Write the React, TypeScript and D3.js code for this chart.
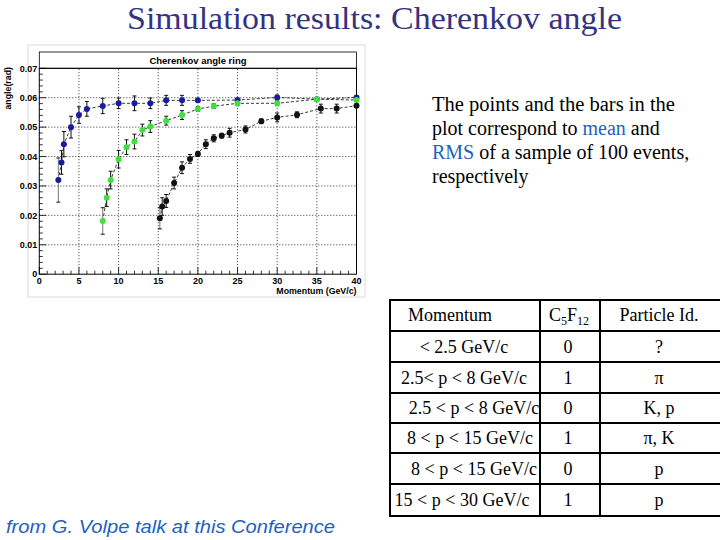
import React from "react";
import * as d3 from "d3";

// pion / kaon / proton mean angle and RMS vs momentum
const blueP = [2.4, 2.8, 3.1, 4, 5, 6, 8, 10, 12, 14, 16, 18, 20, 25, 30, 35, 40];
const blueA = [0.032, 0.038, 0.0442, 0.05, 0.0541, 0.0562, 0.0572, 0.0581, 0.0581, 0.0581, 0.0591, 0.0591, 0.0591, 0.0592, 0.0601, 0.0595, 0.0601];
const blueE = [0.0075, 0.004, 0.0043, 0.0037, 0.0028, 0.0025, 0.0026, 0.0018, 0.0025, 0.0018, 0.0017, 0.0017, 0.0006, 0.0005, 0.0008, 0.0005, 0.0005];

const greenP = [8, 8.5, 9, 10, 11, 12, 13, 14, 16, 18, 20, 22, 25, 30, 35, 40];
const greenA = [0.0181, 0.026, 0.032, 0.0391, 0.0432, 0.0451, 0.049, 0.0502, 0.0522, 0.0541, 0.0562, 0.0571, 0.0581, 0.0581, 0.0595, 0.0592];
const greenE = [0.0045, 0.003, 0.003, 0.003, 0.0025, 0.0025, 0.002, 0.002, 0.0015, 0.0015, 0.0008, 0.0008, 0.0008, 0.0008, 0.0005, 0.0005];

const blackP = [15.2, 15.5, 16, 17, 18, 19, 20, 21, 22, 23, 24, 26, 28, 30, 32.5, 35.5, 37.5, 40];
const blackA = [0.019, 0.023, 0.0249, 0.031, 0.0362, 0.0392, 0.0409, 0.0442, 0.0462, 0.0471, 0.0481, 0.0492, 0.052, 0.0533, 0.0542, 0.0563, 0.0563, 0.0573];
const blackE = [0.0036, 0.003, 0.0022, 0.002, 0.002, 0.0015, 0.0008, 0.0015, 0.0012, 0.0008, 0.0015, 0.0012, 0.0008, 0.0015, 0.001, 0.0015, 0.0015, 0.0005];

const xTicks = [0, 5, 10, 15, 20, 25, 30, 35, 40];
const yTicks = [0, 0.01, 0.02, 0.03, 0.04, 0.05, 0.06, 0.07];

// table
const momentumCol = ["< 2.5 GeV/c", "2.5< p < 8 GeV/c", "2.5 < p < 8 GeV/c", "8 < p < 15 GeV/c", "8 < p < 15 GeV/c", "15 < p < 30 GeV/c"];
const momentumX = [464, 464, 474, 470, 474, 462];
const c5f12Col = ["0", "1", "0", "1", "0", "1"];
const particleCol = ["?", "π", "K, p", "π, K", "p", "p"];
const rowLines = [300, 331, 362, 393, 423, 453, 484, 516];

const x = d3.scaleLinear().domain([0, 40]).range([39.3, 356.5]);
const y = d3.scaleLinear().domain([0, 0.07]).range([274.2, 68.3]);

const series = [
  { p: blueP, a: blueA, e: blueE, color: "#1a1aa0" },
  { p: greenP, a: greenA, e: greenE, color: "#3ee03e" },
  { p: blackP, a: blackA, e: blackE, color: "#111111" },
];

const App = () => {
  const [x0, x1] = x.range();
  const [y0, y1] = y.range();
  const xMinor = d3.range(0, 41, 1);
  const yMinor = d3.range(0, 0.0701, 0.002);
  const f = "'Liberation Sans', Arial, sans-serif";
  const serif = "'Liberation Serif', 'Times New Roman', serif";

  return (
    <svg width={720} height={540} style={{ position: "absolute", left: 0, top: 0, background: "#fff" }}>
      <text x={127} y={29} fontFamily={serif} fontSize={32} fill="#33337f" textLength={495} lengthAdjust="spacingAndGlyphs">
        Simulation results: Cherenkov angle
      </text>

      {/* canvas */}
      <rect x={28} y={45} width={337} height={252} fill="none" stroke="#dcdcdc" />
      {/* title pave */}
      <rect x={x0} y={52} width={x1 - x0} height={y1 - 52} fill="#fff" stroke="#000" strokeWidth={0.8} />
      <text x={198} y={64} textAnchor="middle" fontFamily={f} fontWeight="bold" fontSize={9.5}>
        Cherenkov angle ring
      </text>

      {/* grid */}
      {xTicks.slice(1, -1).map((t) => (
        <line key={"gx" + t} x1={x(t)} x2={x(t)} y1={y0} y2={y1} stroke="#000" strokeWidth={0.8} strokeDasharray="1,2" />
      ))}
      {yTicks.slice(1, -1).map((t) => (
        <line key={"gy" + t} x1={x0} x2={x1} y1={y(t)} y2={y(t)} stroke="#000" strokeWidth={0.8} strokeDasharray="1,2" />
      ))}

      {/* frame */}
      <rect x={x0} y={y1} width={x1 - x0} height={y0 - y1} fill="none" stroke="#000" strokeWidth={1} />

      {/* ticks */}
      {xMinor.map((t) => (
        <line key={"tx" + t} x1={x(t)} x2={x(t)} y1={y0} y2={y0 - (t % 5 === 0 ? 7 : 3.5)} stroke="#000" strokeWidth={0.8} />
      ))}
      {yMinor.map((t, i) => (
        <line key={"ty" + i} x1={x0} x2={x0 + (i % 5 === 0 ? 7 : 3.5)} y1={y(t)} y2={y(t)} stroke="#000" strokeWidth={0.8} />
      ))}
      {xTicks.map((t) => (
        <text key={"lx" + t} x={x(t)} y={y0 + 9.5} textAnchor="middle" fontFamily={f} fontWeight="bold" fontSize={9}>
          {t}
        </text>
      ))}
      {yTicks.map((t) => (
        <text key={"ly" + t} x={x0 - 2} y={y(t) + 3.2} textAnchor="end" fontFamily={f} fontWeight="bold" fontSize={9}>
          {t === 0 ? "0" : t.toFixed(2)}
        </text>
      ))}
      <text x={x1} y={294} textAnchor="end" fontFamily={f} fontWeight="bold" fontSize={8.8}>
        Momentum (GeV/c)
      </text>
      <text transform={`translate(11,67) rotate(-90)`} textAnchor="end" fontFamily={f} fontWeight="bold" fontSize={8.8}>
        angle(rad)
      </text>

      {/* series */}
      {series.map((s, si) => {
        const pts = s.p.map((p, i) => [x(p), y(s.a[i])] as [number, number]);
        const path = d3.line()(pts) || "";
        return (
          <g key={"s" + si}>
            <path d={path} fill="none" stroke="#222" strokeWidth={0.9} strokeDasharray="3,2" />
            {s.p.map((p, i) => {
              const cx = x(p);
              const ya = y(s.a[i] + s.e[i]);
              const yb = y(s.a[i] - s.e[i]);
              return (
                <g key={i}>
                  <line x1={cx} x2={cx} y1={ya} y2={yb} stroke={i === 0 ? "#777" : "#111"} strokeWidth={1} />
                  <line x1={cx - 2} x2={cx + 2} y1={ya} y2={ya} stroke="#111" strokeWidth={1} />
                  <line x1={cx - 2} x2={cx + 2} y1={yb} y2={yb} stroke="#111" strokeWidth={1} />
                </g>
              );
            })}
            {s.p.map((p, i) => (
              <circle key={"c" + i} cx={x(p)} cy={y(s.a[i])} r={3} fill={s.color} />
            ))}
          </g>
        );
      })}

      {/* description */}
      <g fontFamily={serif} fontSize={20} fill="#000" style={{ whiteSpace: "pre" }}>
        <text x={432} y={111} textLength={243} lengthAdjust="spacingAndGlyphs">{"The points and the bars  in the"}</text>
        <text x={432} y={135}>
          plot correspond to <tspan fill="#1f5fbf">mean</tspan> and
        </text>
        <text x={432} y={159}>
          <tspan fill="#1f5fbf">RMS</tspan> of a sample of 100 events,
        </text>
        <text x={432} y={183}>respectively</text>
      </g>

      {/* table */}
      <g fontFamily={serif} fontSize={18} fill="#000">
        {rowLines.map((ry) => (
          <line key={"r" + ry} x1={390} x2={720} y1={ry} y2={ry} stroke="#000" strokeWidth={2} />
        ))}
        {[390, 540, 600].map((cx) => (
          <line key={"c" + cx} x1={cx} x2={cx} y1={rowLines[0] - 1} y2={rowLines[rowLines.length - 1] + 1} stroke="#000" strokeWidth={2} />
        ))}
        <text x={450} y={321} textAnchor="middle">Momentum</text>
        <text x={569} y={321} textAnchor="middle">
          C<tspan fontSize={12} dy={4}>5</tspan>
          <tspan dy={-4}>F</tspan>
          <tspan fontSize={12} dy={4}>12</tspan>
        </text>
        <text x={659} y={321} textAnchor="middle">Particle Id.</text>
        {momentumCol.map((m, i) => {
          const cy = (rowLines[i + 1] + rowLines[i + 2]) / 2 + 6;
          return (
            <g key={"row" + i}>
              <text x={momentumX[i]} y={cy} textAnchor="middle">{m}</text>
              <text x={568} y={cy} textAnchor="middle">{c5f12Col[i]}</text>
              <text x={659} y={cy} textAnchor="middle">{particleCol[i]}</text>
            </g>
          );
        })}
      </g>

      <text x={6} y={533} fontFamily={f} fontStyle="italic" fontSize={19} fill="#1f5fbf" textLength={329} lengthAdjust="spacingAndGlyphs">
        from G. Volpe talk at this Conference
      </text>
    </svg>
  );
};

export default App;
